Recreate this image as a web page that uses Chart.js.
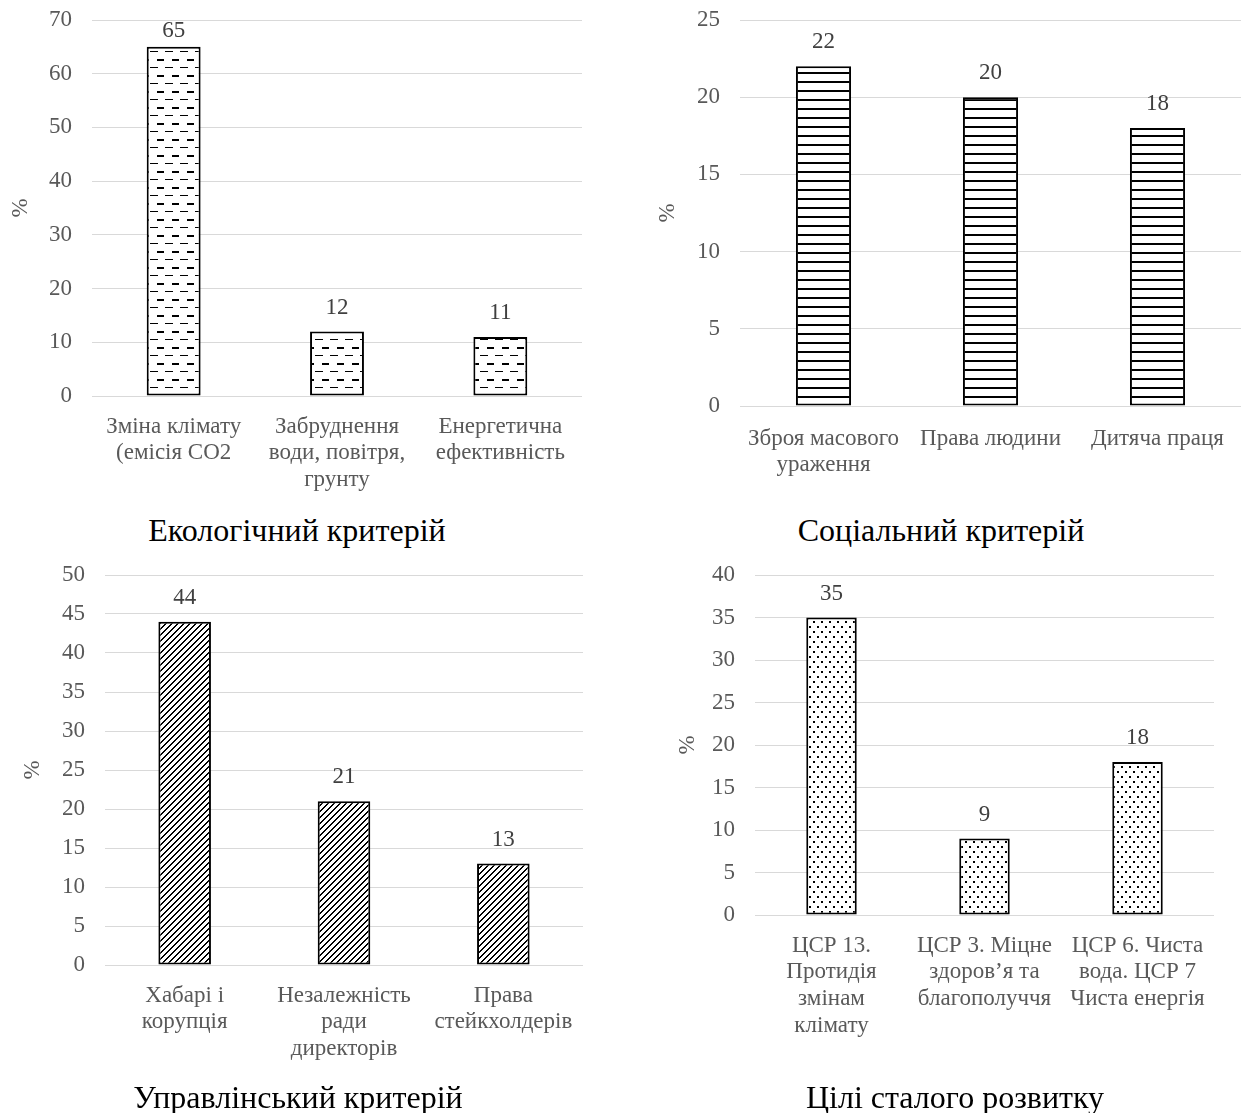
<!DOCTYPE html>
<html>
<head>
<meta charset="utf-8">
<script src="https://cdn.jsdelivr.net/npm/chart.js@4/dist/chart.umd.min.js"></script>
<style>
  html, body { margin: 0; padding: 0; background: #fff; }
  #page { position: relative; width: 1244px; height: 1113px; overflow: hidden; background: #fff; }
  canvas { position: absolute; }
  .caption {
    position: absolute;
    font-family: "Liberation Serif", "Times New Roman", serif;
    font-size: 32px;
    color: #000;
    white-space: nowrap;
    transform: translate(-50%, -50%);
  }
</style>
</head>
<body>
<div id="page">
  <canvas id="ecoChart"></canvas>
  <canvas id="socChart"></canvas>
  <canvas id="govChart"></canvas>
  <canvas id="sdgChart"></canvas>
  <div class="caption" style="left:297px; top:530px;">Екологічний критерій</div>
  <div class="caption" style="left:941px; top:530px;">Соціальний критерій</div>
  <div class="caption" style="left:298px; top:1097px;">Управлінський критерій</div>
  <div class="caption" style="left:955px; top:1097px;">Цілі сталого розвитку</div>
</div>
<script>
// Environmental criterion
const ecoCategories = [['Зміна клімату', '(емісія СО2'], ['Забруднення', 'води, повітря,', 'грунту'], ['Енергетична', 'ефективність']];
const ecoValues = [65, 12, 11];
const ecoAxis = [0, 70, 10];   // min, max, step

// Social criterion
const socCategories = [['Зброя масового', 'ураження'], 'Права людини', 'Дитяча праця'];
const socValues = [22, 20, 18];
const socAxis = [0, 25, 5];

// Governance criterion
const govCategories = [['Хабарі і', 'корупція'], ['Незалежність', 'ради', 'директорів'], ['Права', 'стейкхолдерів']];
const govValues = [44, 21, 13];
const govAxis = [0, 50, 5];

// Sustainable development goals
const sdgCategories = [['ЦСР 13.', 'Протидія', 'змінам', 'клімату'], ['ЦСР 3. Міцне', 'здоров’я та', 'благополуччя'], ['ЦСР 6. Чиста', 'вода. ЦСР 7', 'Чиста енергія']];
const sdgValues = [35, 9, 18];
const sdgAxis = [0, 40, 5];

const SERIF = '"Liberation Serif", "Times New Roman", serif';
const TEXT_COLOR = '#595959';

// ---- hatch fills -------------------------------------------------------
function tile(w, h, draw) {
  const c = document.createElement('canvas');
  c.width = w; c.height = h;
  const g = c.getContext('2d');
  g.fillStyle = '#fff';
  g.fillRect(0, 0, w, h);
  g.fillStyle = '#000';
  draw(g, w, h);
  return c;
}

const dashTile = tile(15, 16, g => {
  g.fillRect(0, 3, 8, 1);
  g.fillRect(7, 11, 7, 2);
});
const lineTile = tile(8, 9, g => {
  g.fillRect(0, 0, 8, 2);
});
const diagTile = tile(6, 6, (g, w, h) => {
  for (let x = 0; x < w; x++) {
    for (let y = 0; y < h; y++) {
      if ((x + y) % 6 < 2) g.fillRect(x, y, 1, 1);
    }
  }
});
const dotTile = tile(8, 10, g => {
  g.fillRect(1, 1, 2, 2);
  g.fillRect(5, 6, 2, 2);
});

// ---- value labels above bars ------------------------------------------
const valueLabels = {
  id: 'valueLabels',
  afterDatasetsDraw(chart) {
    const ctx = chart.ctx;
    const meta = chart.getDatasetMeta(0);
    const values = chart.data.datasets[0].data;
    ctx.save();
    ctx.font = '23px ' + SERIF;
    ctx.fillStyle = '#404040';
    ctx.textAlign = 'center';
    ctx.textBaseline = 'middle';
    meta.data.forEach((bar, i) => {
      const y = Math.max(bar.y - 24, chart.chartArea.top + 11);
      ctx.fillText(String(values[i]), bar.x, y);
    });
    ctx.restore();
  }
};

// ---- one panel --------------------------------------------------------
function makePanel(id, box, area, labels, values, axis, tileCanvas, opts) {
  const cv = document.getElementById(id);
  cv.width = box.w; cv.height = box.h;
  cv.style.left = box.x + 'px';
  cv.style.top = box.y + 'px';
  cv.style.width = box.w + 'px';
  cv.style.height = box.h + 'px';
  const ctx = cv.getContext('2d');
  const fill = ctx.createPattern(tileCanvas, 'repeat');

  return new Chart(cv, {
    type: 'bar',
    data: {
      labels: labels,
      datasets: [{
        data: values,
        backgroundColor: fill,
        borderColor: '#000',
        borderWidth: 2,
        borderSkipped: false,
        categoryPercentage: 1,
        barPercentage: 0.33
      }]
    },
    options: {
      responsive: false,
      animation: false,
      devicePixelRatio: 1,
      layout: {
        autoPadding: false,
        padding: { left: 0, top: area.t - box.y, right: box.x + box.w - area.r, bottom: 0 }
      },
      plugins: { legend: { display: false }, tooltip: { enabled: false } },
      scales: {
        x: {
          grid: { display: false, drawTicks: false },
          border: { display: false },
          ticks: {
            color: TEXT_COLOR,
            font: { family: SERIF, size: 23, lineHeight: 1.17 },
            padding: opts.xPad,
            maxRotation: 0,
            autoSkip: false
          },
          afterFit(s) {
            s.height = box.y + box.h - area.b;
            s.paddingLeft = 0;
            s.paddingRight = 0;
          }
        },
        y: {
          min: axis[0],
          max: axis[1],
          ticks: {
            stepSize: axis[2],
            color: TEXT_COLOR,
            font: { family: SERIF, size: 23 },
            padding: 20
          },
          grid: { color: '#d9d9d9', lineWidth: 1, drawTicks: false },
          border: { display: false },
          title: {
            display: true,
            text: '%',
            color: TEXT_COLOR,
            font: { family: SERIF, size: 23, lineHeight: 1.2 },
            padding: { top: opts.titlePad, bottom: 0 }
          },
          afterFit(s) {
            s.width = area.l - box.x;
            s.paddingTop = 0;
            s.paddingBottom = 0;
          }
        }
      }
    },
    plugins: [valueLabels]
  });
}

makePanel('ecoChart', { x: 0, y: 0, w: 610, h: 500 }, { l: 92, t: 20, r: 582, b: 396 },
  ecoCategories, ecoValues, ecoAxis, dashTile, { xPad: 17, titlePad: 7 });
makePanel('socChart', { x: 620, y: 0, w: 624, h: 500 }, { l: 740, t: 20, r: 1241, b: 406 },
  socCategories, socValues, socAxis, lineTile, { xPad: 19, titlePad: 34 });
makePanel('govChart', { x: 0, y: 560, w: 610, h: 553 }, { l: 105, t: 575, r: 583, b: 965 },
  govCategories, govValues, govAxis, diagTile, { xPad: 17, titlePad: 19 });
makePanel('sdgChart', { x: 620, y: 560, w: 624, h: 553 }, { l: 755, t: 575, r: 1214, b: 915 },
  sdgCategories, sdgValues, sdgAxis, dotTile, { xPad: 17, titlePad: 54 });
</script>
</body>
</html>
